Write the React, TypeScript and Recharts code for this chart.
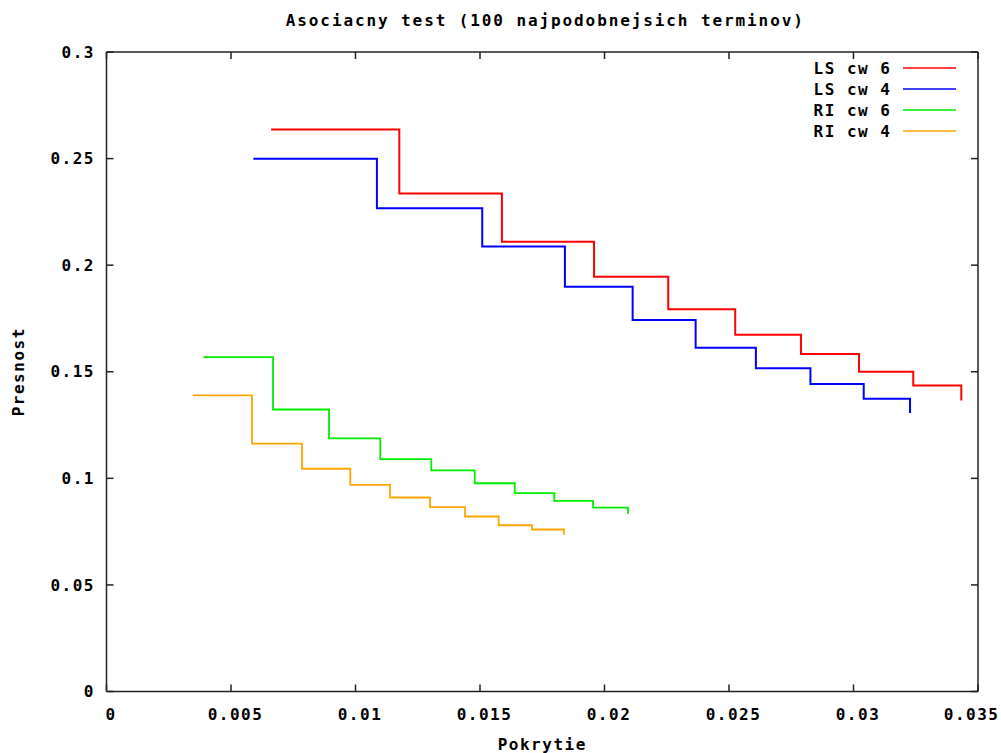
import React from 'react';
import { LineChart, Line, XAxis, YAxis, Legend } from 'recharts';

const seriesNames = ['LS cw 6', 'LS cw 4', 'RI cw 6', 'RI cw 4'];
const seriesColors = ['#ff0000', '#0000ff', '#00ee00', '#ffa500'];

const lsCw6X = [0.00661, 0.01176, 0.01588, 0.01958, 0.02256, 0.02525, 0.02789, 0.03022, 0.0324, 0.03433];
const lsCw6Y = [0.2636, 0.2336, 0.211, 0.1946, 0.1793, 0.1674, 0.1583, 0.15, 0.1436, 0.1365];

const lsCw4X = [0.0059, 0.01086, 0.01509, 0.01841, 0.02113, 0.02366, 0.02608, 0.02827, 0.03041, 0.03227];
const lsCw4Y = [0.2499, 0.2267, 0.2087, 0.1899, 0.1743, 0.1613, 0.1517, 0.1442, 0.1373, 0.1306];

const riCw6X = [0.003888, 0.006687, 0.008936, 0.010996, 0.013044, 0.014787, 0.016394, 0.017984, 0.019538, 0.020944];
const riCw6Y = [0.1569, 0.1323, 0.1187, 0.109, 0.1037, 0.0977, 0.0931, 0.0894, 0.0863, 0.0833];

const riCw4X = [0.003462, 0.005843, 0.007851, 0.009791, 0.011386, 0.012992, 0.014398, 0.015751, 0.017088, 0.018373];
const riCw4Y = [0.1389, 0.1163, 0.1045, 0.0969, 0.091, 0.0865, 0.0821, 0.078, 0.076, 0.0735];

const xTicks = [0, 0.005, 0.01, 0.015, 0.02, 0.025, 0.03, 0.035];
const xTickLabels = ['0', '0.005', '0.01', '0.015', '0.02', '0.025', '0.03', '0.035'];
const yTicks = [0, 0.05, 0.1, 0.15, 0.2, 0.25, 0.3];
const yTickLabels = ['0', '0.05', '0.1', '0.15', '0.2', '0.25', '0.3'];

const title = 'Asociacny test (100 najpodobnejsich terminov)';
const xLabel = 'Pokrytie';
const yLabel = 'Presnost';

const zip = (xs: number[], ys: number[]) => xs.map((x, i) => ({ x, y: ys[i] }));
const seriesData = [zip(lsCw6X, lsCw6Y), zip(lsCw4X, lsCw4Y), zip(riCw6X, riCw6Y), zip(riCw4X, riCw4Y)];
const seriesWidths = [2, 2, 1.8, 1.8];

const FONT = '"DejaVu Sans Mono", "Liberation Mono", monospace';
const textStyle = { fontFamily: FONT, fontSize: 16, fontWeight: 'bold' as const, fill: '#000', letterSpacing: '1.5px' };
const axisColor = '#222';

const fmtX = (v: number) => {
  const i = xTicks.findIndex((t) => Math.abs(t - v) < 1e-9);
  return i >= 0 ? xTickLabels[i] : String(v);
};
const fmtY = (v: number) => {
  const i = yTicks.findIndex((t) => Math.abs(t - v) < 1e-9);
  return i >= 0 ? yTickLabels[i] : String(v);
};

const BottomTick = (props: any) => {
  const { x, y, payload, index } = props;
  const isLast = index === xTicks.length - 1;
  return (
    <text
      x={isLast ? 999.5 : x + 4.5}
      y={y}
      dy="0.71em"
      textAnchor={isLast ? 'end' : 'middle'}
      style={textStyle}
      fill="#000"
    >
      {fmtX(payload.value)}
    </text>
  );
};

const renderLegend = () => (
  <svg width={180} height={90} style={{ display: 'block' }}>
    {seriesNames.map((name, i) => (
      <g key={name}>
        <text
          x={101.5}
          y={10 + i * 21}
          dy="0.36em"
          textAnchor="end"
          style={{ fontFamily: FONT, fontSize: 16, fontWeight: 'bold', letterSpacing: '1.5px' }}
          fill="#000"
        >
          {name}
        </text>
        <line x1={113} x2={166} y1={10 + i * 21} y2={10 + i * 21} stroke={seriesColors[i]} strokeWidth={1.6} />
      </g>
    ))}
  </svg>
);

export default function App() {
  return (
    <div style={{ position: 'absolute', left: 0, top: 0, background: '#fff' }}>
      <LineChart width={1001} height={753} margin={{ top: 0, right: 0, bottom: 0, left: 0 }}>
        <XAxis
          xAxisId="bottom"
          orientation="bottom"
          dataKey="x"
          type="number"
          domain={[0, 0.035]}
          ticks={xTicks}
          interval={0}
          height={61.5}
          tickSize={-7}
          tickMargin={24}
          tick={<BottomTick />}
          stroke={axisColor}
          strokeWidth={1.5}
          allowDataOverflow
          label={{ value: xLabel, position: 'insideBottom', offset: 3, style: textStyle }}
        />
        <XAxis
          xAxisId="top"
          orientation="top"
          dataKey="x"
          type="number"
          domain={[0, 0.035]}
          ticks={xTicks}
          interval={0}
          height={52}
          tickFormatter={() => ''}
          tickSize={-7}
          stroke={axisColor}
          strokeWidth={1.5}
          allowDataOverflow
          label={{ value: title, position: 'insideTop', offset: 15, dx: 3, style: { ...textStyle, letterSpacing: '1.9px' } }}
        />
        <YAxis
          yAxisId="left"
          orientation="left"
          type="number"
          domain={[0, 0.3]}
          ticks={yTicks}
          interval={0}
          width={106.5}
          tickFormatter={fmtY}
          tickSize={-7}
          tickMargin={18.5}
          tick={textStyle}
          stroke={axisColor}
          strokeWidth={1.5}
          allowDataOverflow
          label={{ value: yLabel, angle: -90, position: 'insideLeft', offset: 18, style: { ...textStyle, textAnchor: 'middle' } }}
        />
        <YAxis
          yAxisId="right"
          orientation="right"
          type="number"
          domain={[0, 0.3]}
          ticks={yTicks}
          interval={0}
          width={23}
          tickFormatter={() => ''}
          tickSize={-7}
          stroke={axisColor}
          strokeWidth={1.5}
          allowDataOverflow
        />
        <Legend
          layout="vertical"
          align="center"
          verticalAlign="middle"
          content={renderLegend}
          wrapperStyle={{ position: 'absolute', top: 58, left: 790, width: 180, height: 90 }}
        />
        {seriesData.map((d, i) => (
          <Line
            key={seriesNames[i]}
            name={seriesNames[i]}
            data={d}
            dataKey="y"
            xAxisId="bottom"
            yAxisId="left"
            type="stepAfter"
            stroke={seriesColors[i]}
            strokeWidth={seriesWidths[i]}
            dot={false}
            activeDot={false}
            isAnimationActive={false}
          />
        ))}
      </LineChart>
    </div>
  );
}
